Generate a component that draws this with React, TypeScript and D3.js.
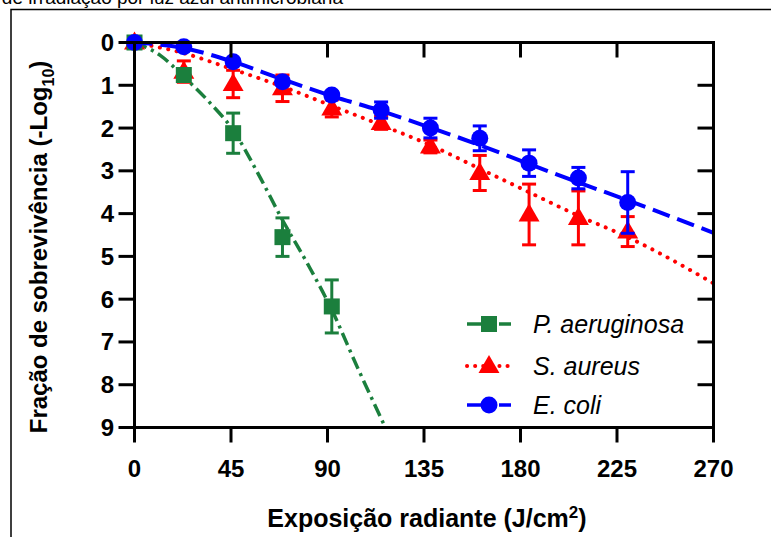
import React from 'react';
import * as d3 from 'd3';

// doses (J/cm2) where bacteria were sampled
const doses = [0, 23, 46, 69, 92, 115, 138, 161, 184, 207, 230];

const pAeruginosaMean = [0, 0.76, 2.12, 4.55, 6.17];
const pAeruginosaErr = [0, 0.12, 0.47, 0.45, 0.62];
const sAureusMean = [0, 0.68, 0.97, 1.07, 1.54, 1.88, 2.43, 3.05, 4.02, 4.1, 4.42];
const sAureusErr = [0, 0.25, 0.32, 0.31, 0.2, 0.15, 0.15, 0.41, 0.71, 0.63, 0.35];
const eColiMean = [0, 0.1, 0.45, 0.92, 1.23, 1.58, 2.0, 2.24, 2.82, 3.17, 3.74];
const eColiErr = [0, 0.05, 0.06, 0.08, 0.08, 0.19, 0.23, 0.29, 0.31, 0.25, 0.72];

// fitted curves
const fitDoses = [0, 23, 46, 69, 92, 115, 138, 161, 184, 207, 230, 270];
const eColiFit = [0, 0.13, 0.45, 0.86, 1.25, 1.6, 1.99, 2.4, 2.84, 3.27, 3.69, 4.45];
const sAureusFit = [0, 0.25, 0.63, 1.03, 1.48, 1.93, 2.4, 2.95, 3.5, 4.05, 4.55, 5.63];
const pAeruginosaFitDoses = [0, 12, 23, 35, 46, 58, 69, 81, 92, 104, 117];
const pAeruginosaFit = [0, 0.3, 0.8, 1.4, 2.05, 3.1, 4.15, 5.2, 6.25, 7.6, 9.0];

const xTicks = [0, 45, 90, 135, 180, 225, 270];
const yTicks = [0, 1, 2, 3, 4, 5, 6, 7, 8, 9];

const GREEN = '#1b7f3d';
const RED = '#ff0000';
const BLUE = '#0000ff';
const FONT = '"Liberation Sans", Arial, sans-serif';

const x = d3.scaleLinear().domain([0, 270]).range([134.5, 713.5]);
const y = d3.scaleLinear().domain([0, 9]).range([42.5, 427.5]);

const line = d3
  .line<[number, number]>()
  .x((d) => x(d[0]))
  .y((d) => y(d[1]))
  .curve(d3.curveMonotoneX);

const zip = (a: number[], b: number[]) => a.map((v, i) => [v, b[i]] as [number, number]);

const Marker = ({ type, cx, cy, color }: { type: string; cx: number; cy: number; color: string }) => {
  if (type === 'circle') return <circle cx={cx} cy={cy} r={8.5} fill={color} />;
  if (type === 'square') return <rect x={cx - 8} y={cy - 8} width={16} height={16} fill={color} />;
  const s = d3.symbol(d3.symbolTriangle, 190)();
  return <path d={s as string} transform={`translate(${cx},${cy + 1})`} fill={color} />;
};

const Series = ({ mean, err, color, type }: { mean: number[]; err: number[]; color: string; type: string }) => (
  <g>
    {mean.map((m, i) => {
      const cx = x(doses[i]);
      const e = err[i];
      return (
        <g key={i}>
          {e > 0 && (
            <g stroke={color} strokeWidth={3}>
              <line x1={cx} x2={cx} y1={y(m - e)} y2={y(m + e)} />
              <line x1={cx - 7} x2={cx + 7} y1={y(m - e)} y2={y(m - e)} />
              <line x1={cx - 7} x2={cx + 7} y1={y(m + e)} y2={y(m + e)} />
            </g>
          )}
          <Marker type={type} cx={cx} cy={y(m)} color={color} />
        </g>
      );
    })}
  </g>
);

const legendItems = [
  { label: 'P. aeruginosa', color: GREEN, type: 'square', y: 324 },
  { label: 'S. aureus', color: RED, type: 'triangle', y: 366 },
  { label: 'E. coli', color: BLUE, type: 'circle', y: 405 },
];

export default function App() {
  return (
    <svg
      width={771}
      height={537}
      style={{ position: 'absolute', left: 0, top: 0, background: '#fff' }}
      fontFamily={FONT}
    >
      {/* cropped caption and frame of the source page */}
      <text x={343} y={4} textAnchor="end" fontSize={19} fill="#000">
        Figura 1 - Curvas de inativação após tempo de irradiação por luz azul antimicrobiana
      </text>
      <path d="M11,540 L11,9.5 L775,9.5" fill="none" stroke="#000" strokeWidth={1.5} />

      {/* fitted curves */}
      <path
        d={line(zip(fitDoses, sAureusFit)) as string}
        fill="none"
        stroke={RED}
        strokeWidth={4}
        strokeDasharray="0.1 8.5"
        strokeLinecap="round"
      />
      <path
        d={line(zip(pAeruginosaFitDoses, pAeruginosaFit)) as string}
        fill="none"
        stroke={GREEN}
        strokeWidth={3.5}
        strokeDasharray="13 5 3 5"
      />
      <path
        d={line(zip(fitDoses, eColiFit)) as string}
        fill="none"
        stroke={BLUE}
        strokeWidth={4}
        strokeDasharray="18 8"
      />

      <Series mean={sAureusMean} err={sAureusErr} color={RED} type="triangle" />
      <Series mean={pAeruginosaMean} err={pAeruginosaErr} color={GREEN} type="square" />
      <Series mean={eColiMean} err={eColiErr} color={BLUE} type="circle" />

      {/* axes frame */}
      <g stroke="#000" strokeWidth={3} fill="none">
        <rect x={x(0)} y={y(0)} width={x(270) - x(0)} height={y(9) - y(0)} />
        {xTicks.map((t) => (
          <line key={'b' + t} x1={x(t)} x2={x(t)} y1={y(9)} y2={y(9) + 15} />
        ))}
        {xTicks.slice(1, -1).map((t) => (
          <line key={'t' + t} x1={x(t)} x2={x(t)} y1={y(0)} y2={y(0) + 15} />
        ))}
        {yTicks.map((t) => (
          <line key={'l' + t} x1={x(0) - 16} x2={x(0)} y1={y(t)} y2={y(t)} />
        ))}
        {yTicks.slice(1, -1).map((t) => (
          <line key={'r' + t} x1={x(270) - 16} x2={x(270)} y1={y(t)} y2={y(t)} />
        ))}
      </g>

      {/* tick labels */}
      <g fontSize={24} fontWeight="bold" fill="#000">
        {xTicks.map((t) => (
          <text key={t} x={x(t)} y={477} textAnchor="middle">
            {t}
          </text>
        ))}
        {yTicks.map((t) => (
          <text key={t} x={114} y={y(t) + 8.5} textAnchor="end">
            {t}
          </text>
        ))}
      </g>

      {/* axis titles */}
      <text x={427} y={527} textAnchor="middle" fontSize={25} fontWeight="bold">
        Exposição radiante (J/cm<tspan dy={-9} fontSize={17}>2</tspan>
        <tspan dy={9}>)</tspan>
      </text>
      <text transform="translate(47,247) rotate(-90)" textAnchor="middle" fontSize={24} fontWeight="bold">
        Fração de sobrevivência (-Log<tspan dy={7} fontSize={16}>10</tspan>
        <tspan dy={-7}>)</tspan>
      </text>

      {/* legend */}
      {legendItems.map((d) => (
        <g key={d.label}>
          <line
            x1={467}
            x2={511}
            y1={d.y}
            y2={d.y}
            stroke={d.color}
            strokeWidth={d.type === 'triangle' ? 4 : 3.5}
            strokeDasharray={d.type === 'triangle' ? '0.1 8' : undefined}
            strokeLinecap={d.type === 'triangle' ? 'round' : 'butt'}
          />
          {d.type !== 'triangle' && <line x1={494} x2={499} y1={d.y} y2={d.y} stroke="#fff" strokeWidth={5} />}
          <Marker type={d.type} cx={489} cy={d.y} color={d.color} />
          <text x={533} y={d.y + 9} fontSize={25} fontStyle="italic">
            {d.label}
          </text>
        </g>
      ))}
    </svg>
  );
}
